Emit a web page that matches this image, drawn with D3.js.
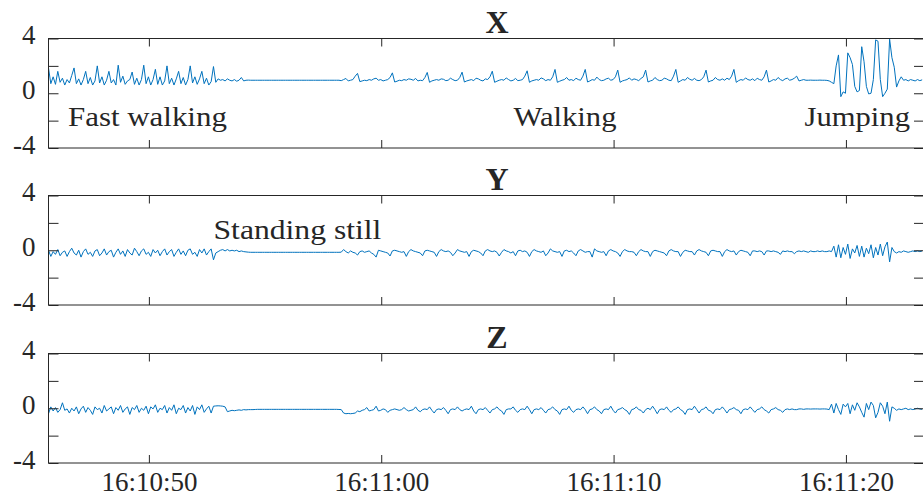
<!DOCTYPE html>
<html>
<head>
<meta charset="utf-8">
<script src="https://cdn.jsdelivr.net/npm/d3@7"></script>
<style>
  body { margin: 0; background: #fff; }
  svg { display: block; }
  text { font-family: "Liberation Serif", "Times New Roman", serif; fill: #262626; }
</style>
</head>
<body>
<svg id="chart" width="923" height="497"></svg>
<script>
// accelerometer axes, one sample every 0.1 s starting 16:10:45.68
const panelTitles = ["X", "Y", "Z"];
const startTime = Date.UTC(2000, 0, 1, 16, 10, 45, 680);
const endTime = Date.UTC(2000, 0, 1, 16, 11, 23, 360);
const sampleMs = 100;

const accX = [
  1.85, 0.7, 1.2, 0.65, 1.6, 0.8, 1.1, 0.6, 1.0, 0.75,
  1.3, 1.85, 0.7, 1.05, 0.6, 1.0, 1.6, 0.7, 1.15, 0.6,
  0.9, 2.0, 0.75, 1.2, 0.6, 0.95, 1.6, 0.75, 1.0, 0.6,
  2.05, 0.8, 1.25, 0.65, 0.9, 1.0, 1.55, 0.65, 1.1, 0.6,
  1.0, 2.05, 0.7, 1.2, 0.6, 1.0, 1.75, 0.65, 1.2, 0.6,
  0.9, 2.0, 0.7, 1.1, 0.6, 1.05, 1.6, 0.7, 1.15, 0.6,
  1.0, 2.0, 0.75, 1.2, 0.65, 1.05, 1.6, 0.7, 1.1, 0.6,
  0.85, 1.95, 0.8, 1.05, 0.95, 1.0, 0.9, 1.05, 0.95, 0.9,
  1.0, 0.88, 0.95, 1.15, 0.9, 0.95, 0.96, 0.95, 0.95, 0.95,
  0.95, 0.95, 0.95, 0.95, 0.95, 0.95, 0.95, 0.95, 0.95, 0.95,
  0.95, 0.95, 0.95, 0.95, 0.95, 0.95, 0.95, 0.95, 0.95, 0.95,
  0.95, 0.95, 0.95, 0.95, 0.95, 0.95, 0.95, 0.95, 0.95, 0.95,
  0.95, 0.95, 0.95, 0.95, 0.95, 0.95, 0.92, 1.0, 1.08, 0.9,
  0.95, 1.0, 1.25, 1.45, 0.85, 0.9, 0.95, 0.92, 1.0, 0.95,
  1.05, 1.1, 0.95, 1.0, 0.9, 0.95, 1.0, 1.15, 1.49, 0.82,
  0.88, 0.95, 0.92, 1.0, 0.95, 1.05, 1.02, 0.95, 1.08, 0.9,
  0.95, 0.92, 1.15, 1.52, 0.8, 0.9, 0.95, 1.0, 0.95, 1.05,
  1.02, 0.92, 0.95, 1.1, 1.0, 0.92, 0.95, 1.15, 1.54, 0.82,
  0.9, 0.95, 1.0, 0.92, 1.1, 1.05, 0.95, 0.9, 1.05, 1.0,
  1.2, 1.61, 0.8, 0.88, 0.95, 1.0, 0.95, 1.12, 1.0, 0.9,
  0.95, 1.08, 0.92, 0.95, 1.0, 1.25, 1.64, 0.8, 0.9, 0.95,
  1.0, 0.95, 1.12, 1.05, 0.92, 1.0, 0.95, 1.2, 1.74, 0.8,
  0.88, 0.95, 1.0, 1.15, 0.95, 1.0, 0.92, 1.1, 1.0, 0.95,
  1.25, 1.74, 0.82, 0.9, 1.0, 0.95, 1.18, 1.0, 0.92, 0.95,
  1.05, 1.1, 0.95, 1.0, 1.2, 1.69, 0.8, 0.9, 0.95, 1.0,
  1.12, 0.95, 1.05, 1.0, 0.92, 1.08, 1.2, 1.69, 0.82, 0.9,
  0.95, 1.15, 1.0, 0.92, 0.95, 1.1, 1.05, 0.95, 0.92, 1.25,
  1.74, 0.8, 0.9, 1.0, 0.95, 1.15, 1.02, 0.95, 1.08, 0.95,
  0.92, 1.0, 1.2, 1.69, 0.82, 0.9, 0.95, 1.15, 1.0, 0.95,
  1.05, 0.95, 1.1, 1.0, 1.25, 1.74, 0.8, 0.92, 1.0, 0.95,
  1.12, 1.0, 0.95, 1.05, 0.92, 1.1, 1.0, 0.95, 1.2, 1.69,
  0.82, 0.9, 1.0, 0.95, 1.15, 1.0, 0.92, 1.05, 1.1, 0.95,
  1.0, 1.1, 1.25, 0.9, 0.95, 1.0, 0.95, 0.95, 0.96, 0.95,
  0.95, 0.95, 0.96, 0.95, 0.95, 0.94, 0.9, 0.8, 0.7, 2.0,
  2.8, -0.25, 0.1, 0.0, 2.95, 2.6, 2.1, 0.5, 0.1, 0.2,
  3.4, 2.3, 0.5, -0.05, 0.0, 1.0, 3.9, 3.8, 1.0, -0.25,
  0.0, 0.3, 3.95, 2.6, 1.9, 0.45, 0.9, 1.2, 0.95, 1.0,
  0.9, 1.0, 0.95, 0.9, 1.0, 0.92, 0.98
];

const accY = [
  0.0, -0.45, -0.1, -0.3, 0.05, -0.4, -0.15, -0.05, -0.45, -0.1,
  0.15, -0.2, -0.35, 0.0, -0.5, -0.1, 0.1, -0.3, -0.15, -0.45,
  -0.05, 0.05, -0.4, -0.2, 0.1, -0.35, -0.1, 0.0, -0.5, -0.15,
  0.1, -0.3, -0.05, -0.45, 0.05, -0.2, -0.35, 0.15, -0.1, -0.4,
  -0.05, 0.1, -0.3, -0.15, -0.45, 0.05, -0.2, 0.0, -0.4, -0.1,
  0.1, -0.35, -0.1, 0.05, -0.45, -0.15, 0.1, -0.3, -0.05, -0.4,
  0.0, 0.1, -0.3, -0.15, -0.45, 0.05, -0.2, 0.1, -0.35, -0.1,
  0.1, -0.7, -0.2, -0.1, 0.0, 0.05, -0.05, 0.05, -0.05, 0.0,
  -0.05, 0.0, -0.1, -0.05, -0.1, -0.12, -0.14, -0.15, -0.15, -0.15,
  -0.15, -0.15, -0.15, -0.15, -0.15, -0.15, -0.15, -0.15, -0.15, -0.15,
  -0.15, -0.15, -0.15, -0.15, -0.15, -0.15, -0.15, -0.15, -0.15, -0.15,
  -0.15, -0.15, -0.15, -0.15, -0.15, -0.15, -0.15, -0.15, -0.15, -0.15,
  -0.15, -0.15, -0.15, -0.15, -0.15, -0.15, -0.14, 0.05, -0.1, -0.2,
  -0.05, -0.15, -0.2, -0.35, -0.1, -0.05, -0.15, -0.1, -0.05, -0.2,
  -0.3, -0.5, 0.0, -0.05, -0.1, -0.15, -0.2, -0.42, -0.05, 0.0,
  -0.05, -0.1, -0.15, -0.1, -0.45, -0.1, 0.05, -0.05, -0.1, -0.15,
  -0.2, -0.4, -0.05, 0.0, -0.05, -0.1, -0.15, -0.45, -0.1, 0.05,
  -0.05, -0.1, -0.05, -0.15, -0.4, -0.2, 0.05, -0.05, -0.1, -0.15,
  -0.1, -0.45, -0.1, 0.0, -0.05, -0.1, -0.2, -0.4, -0.05, 0.05,
  -0.05, -0.1, -0.05, -0.15, -0.42, -0.15, 0.05, -0.05, -0.1, -0.2,
  -0.1, -0.4, -0.05, 0.0, -0.1, -0.05, -0.15, -0.45, -0.1, 0.05,
  -0.05, -0.1, -0.15, -0.05, -0.4, -0.2, 0.1, -0.05, -0.1, -0.15,
  -0.1, -0.45, -0.05, 0.0, -0.1, -0.05, -0.2, -0.4, -0.05, 0.05,
  -0.05, -0.15, -0.1, -0.1, -0.5, 0.1, -0.05, -0.1, -0.15, -0.1,
  -0.4, -0.05, 0.05, -0.05, -0.1, -0.2, -0.45, -0.1, 0.05, -0.05,
  -0.1, -0.1, -0.15, -0.4, -0.1, 0.05, -0.05, -0.1, -0.1, -0.45,
  -0.1, 0.0, -0.05, -0.1, -0.15, -0.2, -0.4, -0.05, 0.05, -0.05,
  -0.1, -0.1, -0.45, -0.15, 0.0, -0.05, -0.1, -0.1, -0.35, -0.05,
  0.05, -0.05, -0.1, -0.15, -0.4, -0.05, 0.0, -0.05, -0.1, -0.1,
  -0.45, -0.1, 0.05, -0.05, -0.1, -0.05, -0.35, -0.1, 0.0, -0.05,
  -0.1, -0.15, -0.4, -0.05, -0.05, -0.1, -0.05, -0.1, -0.35, -0.05,
  -0.05, -0.1, -0.05, -0.1, -0.15, -0.3, -0.05, -0.1, -0.05, -0.1,
  -0.1, -0.25, -0.1, -0.05, -0.1, -0.05, -0.1, -0.15, -0.05, -0.1,
  -0.1, -0.05, -0.1, -0.05, -0.1, -0.1, -0.05, -0.1, 0.3, -0.5,
  0.4, -0.55, 0.2, -0.3, 0.45, -0.6, 0.1, -0.2, 0.35, -0.45,
  0.3, -0.5, 0.15, -0.25, 0.4, -0.55, 0.2, -0.35, 0.45, -0.4,
  0.25, 0.6, -0.85, 0.2, -0.1, -0.2, -0.1, -0.15, -0.05, -0.1,
  -0.15, -0.1, -0.05, -0.1, -0.05, -0.1, -0.05
];

const accZ = [
  -0.4, 0.1, -0.2, 0.05, -0.3, -0.1, 0.4, -0.15, -0.05, -0.35,
  0.0, -0.2, 0.1, -0.4, -0.05, 0.15, -0.3, 0.05, -0.15, -0.45,
  0.1, -0.1, 0.0, -0.35, 0.2, -0.2, -0.05, 0.1, -0.4, 0.05,
  -0.15, 0.2, -0.3, -0.05, 0.1, -0.45, 0.05, -0.1, 0.2, -0.3,
  0.0, -0.15, 0.15, -0.4, 0.1, -0.05, 0.25, -0.3, 0.0, -0.1,
  0.2, -0.35, 0.05, -0.15, 0.25, -0.4, 0.0, -0.1, 0.2, -0.35,
  0.05, -0.2, 0.2, -0.45, 0.1, -0.1, 0.25, -0.3, -0.05, 0.15,
  -0.35, 0.15, 0.17, 0.18, 0.17, 0.15, 0.1, -0.25, -0.2, -0.15,
  -0.18, -0.15, -0.12, -0.15, -0.1, -0.12, -0.1, -0.1, -0.1, -0.09,
  -0.08, -0.08, -0.08, -0.08, -0.08, -0.08, -0.08, -0.08, -0.08, -0.08,
  -0.08, -0.08, -0.08, -0.08, -0.08, -0.08, -0.08, -0.08, -0.08, -0.08,
  -0.08, -0.08, -0.08, -0.08, -0.08, -0.08, -0.08, -0.08, -0.08, -0.08,
  -0.08, -0.08, -0.08, -0.08, -0.08, -0.09, -0.1, -0.35, -0.4, -0.38,
  -0.4, -0.38, -0.35, -0.2, -0.25, -0.15, -0.1, 0.05, -0.2, -0.15,
  -0.1, 0.15, -0.2, -0.15, -0.05, -0.1, -0.3, -0.15, -0.1, -0.05,
  -0.1, -0.15, -0.1, 0.05, -0.1, -0.2, -0.15, -0.1, 0.1, -0.15,
  -0.25, -0.1, -0.05, -0.1, 0.1, -0.15, -0.35, -0.1, -0.05, -0.1,
  0.05, -0.15, -0.4, -0.1, -0.05, -0.1, 0.1, -0.1, -0.2, -0.1,
  -0.05, -0.1, 0.15, -0.2, -0.4, -0.1, -0.05, -0.1, 0.05, -0.15,
  -0.35, -0.1, -0.05, 0.1, -0.1, -0.2, -0.45, -0.1, -0.05, -0.05,
  0.1, -0.15, -0.3, -0.1, -0.05, -0.1, 0.15, -0.1, -0.4, -0.1,
  -0.05, -0.1, 0.05, -0.15, -0.35, -0.1, -0.05, 0.1, -0.1, -0.2,
  -0.45, -0.1, -0.05, -0.1, 0.15, -0.15, -0.3, -0.1, -0.05, -0.1,
  0.1, -0.1, -0.4, -0.1, -0.05, 0.1, -0.1, -0.2, -0.4, -0.1,
  -0.05, -0.1, 0.15, -0.15, -0.35, -0.1, -0.05, 0.05, -0.1, -0.2,
  -0.45, -0.1, -0.05, 0.1, -0.1, -0.15, -0.35, -0.1, 0.0, -0.1,
  0.15, -0.1, -0.4, -0.1, -0.05, -0.1, 0.1, -0.15, -0.3, -0.1,
  -0.05, 0.1, -0.1, -0.2, -0.45, -0.1, -0.05, -0.1, 0.15, -0.1,
  -0.35, -0.1, -0.05, 0.1, -0.15, -0.2, -0.4, -0.1, -0.05, -0.1,
  0.1, -0.1, -0.35, -0.1, -0.05, 0.05, -0.1, -0.15, -0.4, -0.1,
  -0.05, -0.1, 0.1, -0.1, -0.3, -0.1, -0.05, 0.1, -0.1, -0.2,
  -0.35, -0.1, -0.05, 0.05, -0.1, -0.15, -0.3, -0.1, -0.05, -0.1,
  -0.05, -0.1, -0.1, -0.05, -0.05, -0.08, -0.05, -0.05, -0.06, -0.05,
  -0.05, -0.05, -0.06, -0.05, -0.05, -0.06, -0.1, 0.3, -0.35, 0.35,
  -0.1, -0.45, 0.3, 0.1, 0.35, -0.4, 0.25, -0.15, 0.4, 0.1,
  -0.3, -0.65, 0.35, -0.1, 0.45, 0.2, -0.7, -0.3, 0.4, 0.15,
  -0.4, 0.45, -0.95, 0.1, 0.0, -0.15, -0.05, -0.1, -0.05, 0.0,
  -0.1, -0.05, -0.1, -0.05, 0.0, -0.05, -0.08
];

const yTicks = [-4, -2, 0, 2, 4];
const yTickLabels = { "-4": "-4", "0": "0", "4": "4" };
const activityLabels = ["Fast walking", "Walking", "Jumping", "Standing still"];

const series = [accX, accY, accZ];

// layout
const left = 48.5, right = 924;
const panelTop = [38.5, 195.5, 353.5];
const panelH = 109.5;
const titleX = 497;
const lineColor = "#0072BD";
const axisColor = "#262626";

const svg = d3.select("#chart");

const x = d3.scaleUtc()
  .domain([new Date(startTime), new Date(endTime)])
  .range([left, right]);

const xTicks = d3.utcSecond.every(10);
const fmt = d3.utcFormat("%H:%M:%S");

svg.append("defs").selectAll("clipPath")
  .data(panelTop)
  .join("clipPath")
  .attr("id", (d, i) => "clip" + i)
  .append("rect")
  .attr("x", left)
  .attr("y", d => d)
  .attr("width", right - left)
  .attr("height", panelH);

series.forEach((vals, p) => {
  const top = panelTop[p];
  const y = d3.scaleLinear().domain([-4, 4]).range([top + panelH, top]);
  const g = svg.append("g");

  const line = d3.line()
    .x((d, i) => x(new Date(startTime + i * sampleMs)))
    .y(d => y(d));

  g.append("path")
    .datum(vals)
    .attr("clip-path", `url(#clip${p})`)
    .attr("fill", "none")
    .attr("stroke", lineColor)
    .attr("stroke-width", 1)
    .attr("stroke-linejoin", "round")
    .attr("d", line);

  // left axis with labels
  g.append("g")
    .attr("transform", `translate(${left},0)`)
    .call(d3.axisLeft(y).tickValues(yTicks).tickSizeInner(-10).tickSizeOuter(0).tickPadding(13)
      .tickFormat(d => yTickLabels[d] || ""))
    .call(a => a.select(".domain").remove())
    .call(a => a.selectAll("text").attr("dy", "0.2em").style("font-size", "27px"));

  g.append("g")
    .attr("transform", `translate(${right},0)`)
    .call(d3.axisRight(y).tickValues(yTicks).tickSizeInner(-10).tickSizeOuter(0).tickFormat(""))
    .call(a => a.select(".domain").remove());

  g.append("g")
    .attr("transform", `translate(0,${top})`)
    .call(d3.axisTop(x).ticks(xTicks).tickSizeInner(-8).tickSizeOuter(0).tickFormat(""))
    .call(a => a.select(".domain").remove());

  g.append("g")
    .attr("transform", `translate(0,${top + panelH})`)
    .call(d3.axisBottom(x).ticks(xTicks).tickSizeInner(-8).tickSizeOuter(0).tickPadding(9)
      .tickFormat(p === 2 ? fmt : ""))
    .call(a => a.select(".domain").remove())
    .call(a => a.selectAll("text").style("font-size", "27px"));

  g.selectAll(".tick line").attr("stroke", axisColor);
  g.selectAll(".tick text").attr("fill", axisColor).style("font-family", '"Liberation Serif", serif');

  g.append("rect")
    .attr("x", left)
    .attr("y", top)
    .attr("width", right - left)
    .attr("height", panelH)
    .attr("fill", "none")
    .attr("stroke", axisColor)
    .attr("stroke-width", 1);

  g.append("text")
    .attr("x", titleX)
    .attr("y", top - 5.5)
    .attr("text-anchor", "middle")
    .style("font-size", "32px")
    .style("font-weight", "bold")
    .text(panelTitles[p]);
});

// activity annotations, stretched a little to the wider look of the original type
const annPos = [[68, 126, 159], [513.5, 126, 103], [804.5, 126, 105.5], [213.5, 238.5, 168]];
const ann = svg.append("g").style("font-size", "27px");
activityLabels.forEach((label, i) => {
  const [ax, ay, w] = annPos[i];
  const t = ann.append("text").text(label);
  const natural = t.node().getComputedTextLength();
  t.attr("transform", `translate(${ax},${ay}) scale(${w / natural},1)`);
});
</script>
</body>
</html>
